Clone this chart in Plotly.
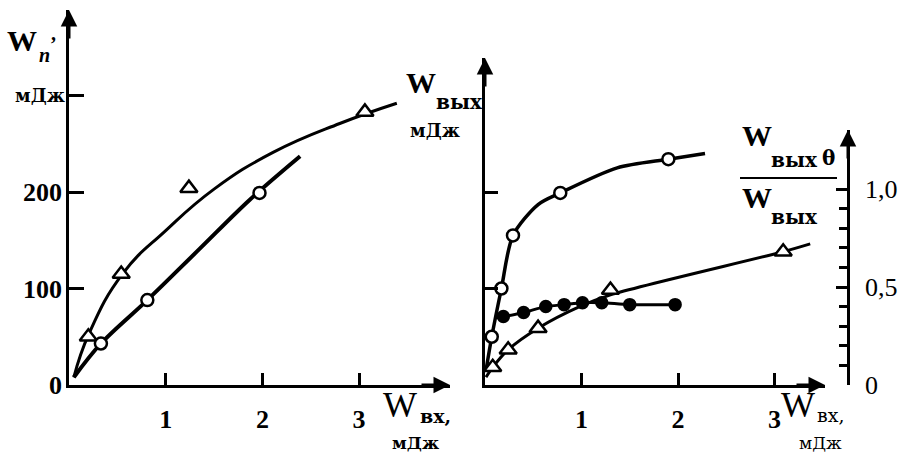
import plotly.graph_objects as go

W, H = 903, 455
def px(x): return x / W
def py(y): return 1 - y / H

FONT = "Liberation Serif"
SUBFONT = "DejaVu Serif"

# ---------------- data: left panel (W_п vs W_вх) ----------------
left_tri_x = [0.20, 0.54, 1.24, 3.06]
left_tri_y = [50, 115, 204, 283]
left_tri_curve_x = [0.05, 0.21, 0.56, 1.00, 1.50, 2.11, 2.80, 3.39]
left_tri_curve_y = [8, 54, 116, 160, 203, 241, 271, 292]
left_circ_x = [0.33, 0.81, 1.97]
left_circ_y = [43, 88, 199]
left_circ_curve_x = [0.05, 0.33, 0.81, 1.35, 1.87, 2.39]
left_circ_curve_y = [8, 43, 88, 141, 192, 237]
left_xticks = [1, 2, 3]
left_yticks = [0, 100, 200, 300]
left_yticktext = ["0", "100", "200", ""]

# ---------------- data: right panel ----------------
right_circ_x = [0.07, 0.17, 0.29, 0.78, 1.90]
right_circ_y = [50, 100, 155, 199, 234]
right_circ_curve_x = [0.01, 0.07, 0.17, 0.29, 0.55, 0.78, 1.37, 1.90, 2.28]
right_circ_curve_y = [15, 50, 100, 155, 187, 199, 225, 234, 240]
ratio_x = [0.19, 0.40, 0.63, 0.82, 1.01, 1.21, 1.50, 1.97]
ratio_y = [0.35, 0.37, 0.40, 0.41, 0.42, 0.42, 0.41, 0.41]
ratio_line_x = [0.12] + ratio_x
ratio_line_y = [0.35] + ratio_y
right_tri_x = [0.08, 0.24, 0.55, 1.30, 3.09]
right_tri_y = [0.09, 0.18, 0.29, 0.485, 0.68]
right_tri_curve_x = [0.01, 0.08, 0.24, 0.55, 0.98, 1.30, 3.09, 3.37]
right_tri_curve_y = [0.04, 0.09, 0.18, 0.29, 0.40, 0.46, 0.68, 0.72]
right_xticks = [1, 2, 3]
right_y2ticks = [100, 200]
right_y3ticks = [0, 0.5, 1.0]
right_y3ticktext = ["0", "0,5", "1,0"]
right_y3minor = [0.1, 0.2, 0.3, 0.4, 0.6, 0.7, 0.8, 0.9]

fig = go.Figure()

def line(x, y, xa, ya, w, sm=0.8):
    fig.add_trace(go.Scatter(x=x, y=y, xaxis=xa, yaxis=ya, mode="lines",
                             line=dict(color="black", width=w, shape="spline", smoothing=sm),
                             hoverinfo="skip"))

def marks(x, y, xa, ya, symbol, size, fill):
    fig.add_trace(go.Scatter(x=x, y=y, xaxis=xa, yaxis=ya, mode="markers",
                             marker=dict(symbol=symbol, size=size, color=fill,
                                         line=dict(color="black", width=2.5)),
                             cliponaxis=False))

# left panel
line(left_tri_curve_x, left_tri_curve_y, "x", "y", 3, 1.3)
line(left_circ_curve_x, left_circ_curve_y, "x", "y", 4, 1.0)
marks(left_tri_x, left_tri_y, "x", "y", "triangle-up", 15, "white")
marks(left_circ_x, left_circ_y, "x", "y", "circle", 12, "white")

# right panel
line(right_circ_curve_x, right_circ_curve_y, "x2", "y2", 3.5)
line(ratio_line_x, ratio_line_y, "x2", "y3", 3)
line(right_tri_curve_x, right_tri_curve_y, "x2", "y3", 3)
marks(right_circ_x, right_circ_y, "x2", "y2", "circle", 12, "white")
marks(ratio_x, ratio_y, "x2", "y3", "circle", 11, "black")
marks(right_tri_x, right_tri_y, "x2", "y3", "triangle-up", 15, "white")

base = 385
axis_common = dict(showgrid=False, zeroline=False, showline=True, linecolor="black",
                   linewidth=2.5, ticks="inside", tickcolor="black", tickwidth=2.5,
                   fixedrange=True, automargin=False)

fig.update_layout(
    width=W, height=H, margin=dict(l=0, r=0, t=0, b=0, autoexpand=False),
    paper_bgcolor="white", plot_bgcolor="rgba(0,0,0,0)", showlegend=False,
    xaxis=dict(axis_common, domain=[px(69), px(450)], range=[0, (450 - 69) / 96.7],
               anchor="y", tickvals=left_xticks, ticklen=12, ticklabelstandoff=9,
               tickfont=dict(family=FONT, size=26, color="black", weight="bold")),
    yaxis=dict(axis_common, domain=[py(base), py(10)], range=[0, (base - 10) / 0.965],
               anchor="x", tickvals=left_yticks, ticktext=left_yticktext, ticklen=15,
               ticklabelstandoff=-1,
               tickfont=dict(family=FONT, size=26, color="black", weight="bold")),
    xaxis2=dict(axis_common, domain=[px(485), px(825)], range=[0, (825 - 485) / 96.5],
                anchor="y2", tickvals=right_xticks, ticklen=12, ticklabelstandoff=9,
                tickfont=dict(family=FONT, size=26, color="black", weight="bold")),
    yaxis2=dict(axis_common, domain=[py(base), py(58)], range=[0, (base - 58) / 0.965],
                anchor="x2", tickvals=right_y2ticks, ticklen=13, showticklabels=False),
    yaxis3=dict(axis_common, domain=[py(base), py(130)], range=[0, (base - 130) / 196.0],
                anchor="free", position=px(848), side="right",
                tickvals=right_y3ticks, ticktext=right_y3ticktext, ticklen=11,
                ticklabelstandoff=10,
                tickfont=dict(family=FONT, size=26, color="black"),
                minor=dict(tickvals=right_y3minor, ticklen=8, tickwidth=2.5,
                           tickcolor="black", ticks="inside")),
)

ann = []
def txt(x, y, s, size, bold=False, italic=False, xanchor="center", family=FONT):
    ann.append(dict(x=px(x), y=py(y), xref="paper", yref="paper", text=s,
                    showarrow=False, xanchor=xanchor, yanchor="middle",
                    font=dict(family=family, size=size, color="black",
                              weight="bold" if bold else "normal",
                              style="italic" if italic else "normal")))

def arrow(x, y, dx, dy):
    ann.append(dict(x=px(x), y=py(y), xref="paper", yref="paper", text="",
                    showarrow=True, ax=dx, ay=dy, arrowhead=2, arrowsize=1.1,
                    arrowwidth=3, arrowcolor="black", standoff=0))

# axis arrows
arrow(69, 10, 0, 30)
arrow(450, base, -30, 0)
arrow(485, 58, 0, 30)
arrow(825, base, -30, 0)
arrow(848, 130, 0, 30)

# left y label
txt(22, 40, "W", 30, bold=True)
txt(44, 55, "п", 20, bold=True, italic=True)
txt(53, 44, "’", 20, bold=True)
txt(40, 95, "мДж", 18, bold=True, family=SUBFONT)
# left x label
txt(400, 405, "W", 36)
txt(418, 416, "вх,", 19, bold=True, xanchor="left", family=SUBFONT)
txt(415, 443, "мДж", 17, bold=True, family=SUBFONT)
# right left-axis label
txt(421, 82, "W", 30, bold=True)
txt(434, 102, "вых", 20, bold=True, xanchor="left", family=SUBFONT)
txt(435, 130, "мДж", 18, bold=True, family=SUBFONT)
# fraction label
txt(757, 135, "W", 30, bold=True)
txt(769, 160, "вых", 20, bold=True, xanchor="left", family=SUBFONT)
txt(828, 158, "θ", 20, bold=True, family=SUBFONT)
txt(757, 197, "W", 30, bold=True)
txt(769, 217, "вых", 20, bold=True, xanchor="left", family=SUBFONT)
# right x label
txt(798, 405, "W", 36)
txt(815, 415, "вх,", 19, xanchor="left", family=SUBFONT)
txt(820, 443, "мДж", 17, family=SUBFONT)

fig.update_layout(annotations=ann,
                  shapes=[dict(type="line", xref="paper", yref="paper",
                               x0=px(740), x1=px(837), y0=py(178), y1=py(178),
                               line=dict(color="black", width=2))])

fig.write_html("out.html", config={"displayModeBar": False},
               post_script="document.body.style.margin='0';document.body.style.padding='0';")
